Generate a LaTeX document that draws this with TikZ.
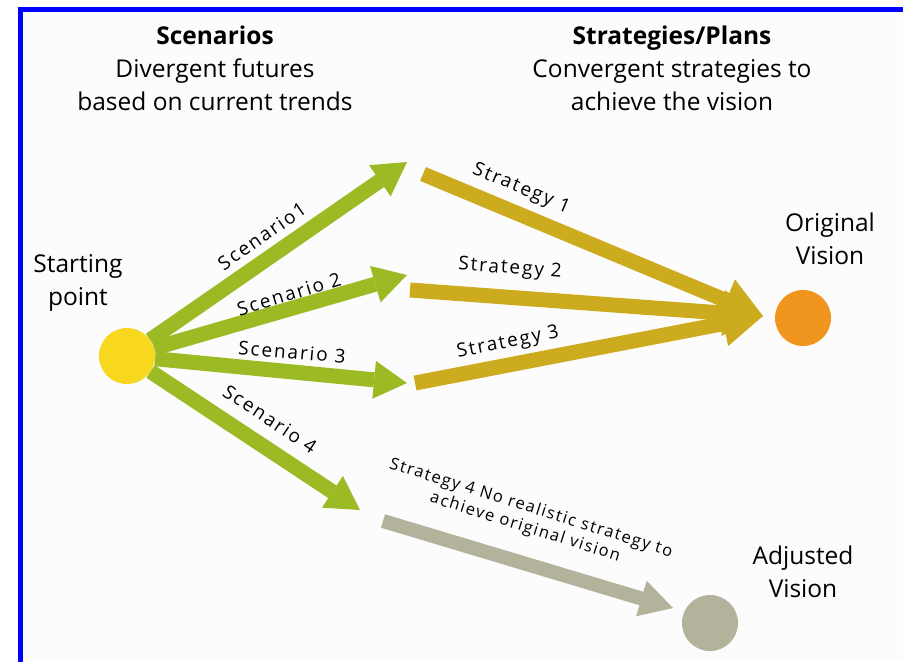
\documentclass[tikz,border=0pt]{standalone}
\usepackage{fontspec}
\setmainfont{Open Sans}
\usetikzlibrary{arrows.meta}
\definecolor{bgc}{HTML}{FCFCFC}
\definecolor{bluec}{HTML}{0000FF}
\definecolor{yellowc}{HTML}{F7D81F}
\definecolor{greenc}{HTML}{9CBA24}
\definecolor{goldc}{HTML}{CDAB1E}
\definecolor{orangec}{HTML}{F0961E}
\definecolor{grayc}{HTML}{B3B29B}
\begin{document}
\begin{tikzpicture}[x=1pt,y=-1pt,
  hdr/.style={align=center, font=\fontsize{24.5}{33}\selectfont, inner sep=0pt},
  lbl/.style={font=\fontsize{19}{22}\selectfont\addfontfeature{LetterSpace=10}, inner sep=0pt},
  smalllbl/.style={align=center, font=\fontsize{16.5}{20}\selectfont\addfontfeature{LetterSpace=9}, inner sep=0pt},
  dot/.style={circle, minimum size=56pt, inner sep=0pt},
  garrow/.style={draw=greenc, line width=15pt, -{Triangle[length=33pt,width=38pt,line width=0pt]}},
  sarrow/.style={draw=goldc, line width=15pt, -{Triangle[length=40pt,width=46pt,line width=0pt]}},
  darrow/.style={draw=grayc, line width=14pt, -{Triangle[length=33pt,width=37pt,line width=0pt]}}
]
\useasboundingbox (0,0) rectangle (903,662);
\fill[white] (0,0) rectangle (903,662);
\fill[bgc] (23,12) rectangle (903,662);
\fill[bluec] (18,7) rectangle (23,662);
\fill[bluec] (18,7) rectangle (903,12);

% headers
\node[hdr] (hs) at (215,68) {\bfseries Scenarios\\Divergent futures\\based on current trends};
\node[hdr] (hp) at (672,68) {\bfseries Strategies/Plans\\Convergent strategies to\\achieve the vision};
\node[hdr] (sp) at (78,283) {Starting\\point};
\node[hdr] (ovl) at (830,239) {Original\\Vision};
\node[hdr] (avl) at (803,572) {Adjusted\\Vision};

% circles
\node[dot, fill=yellowc] (start) at (127,356) {};
\node[dot, fill=orangec] (ov) at (803,318) {};
\node[dot, fill=grayc] (av) at (710,623) {};

% coordinates
\coordinate (t1) at (407,162);
\coordinate (t2) at (407,275);
\coordinate (t3) at (407,383);
\coordinate (t4) at (360,510);
\coordinate (s1) at (423,174);
\coordinate (s2) at (410,290);
\coordinate (s3) at (415,383);
\coordinate (s4) at (383,521);
\coordinate (ovtip) at (763,316);
\coordinate (avtip) at (673,608);

% scenario arrows
\draw[garrow] (start) -- (t1);
\draw[garrow] (start) -- (t2);
\draw[garrow] (start) -- (t3);
\draw[garrow] (start) -- (t4);

% strategy arrows
\draw[sarrow] (s1) -- (ovtip);
\draw[sarrow] (s2) -- (ovtip);
\draw[sarrow] (s3) -- (ovtip);
\draw[darrow] (s4) -- (avtip);

% labels
\node[lbl, rotate=35] (l1) at (262,236) {Scenario1};
\node[lbl, rotate=17] (l2) at (289,294) {Scenario 2};
\node[lbl, rotate=-5] (l3) at (292,352) {Scenario 3};
\node[lbl, rotate=-33.5] (l4) at (270,419) {Scenario 4};
\node[lbl, rotate=-22.7] (m1) at (521,189) {Strategy 1};
\node[lbl, rotate=-4] (m2) at (510,269) {Strategy 2};
\node[lbl, rotate=11] (m3) at (508,343) {Strategy 3};
\node[smalllbl, rotate=-17.5] (m4) at (528,518) {Strategy 4 No realistic strategy to\\achieve original vision};
\end{tikzpicture}
\end{document}
